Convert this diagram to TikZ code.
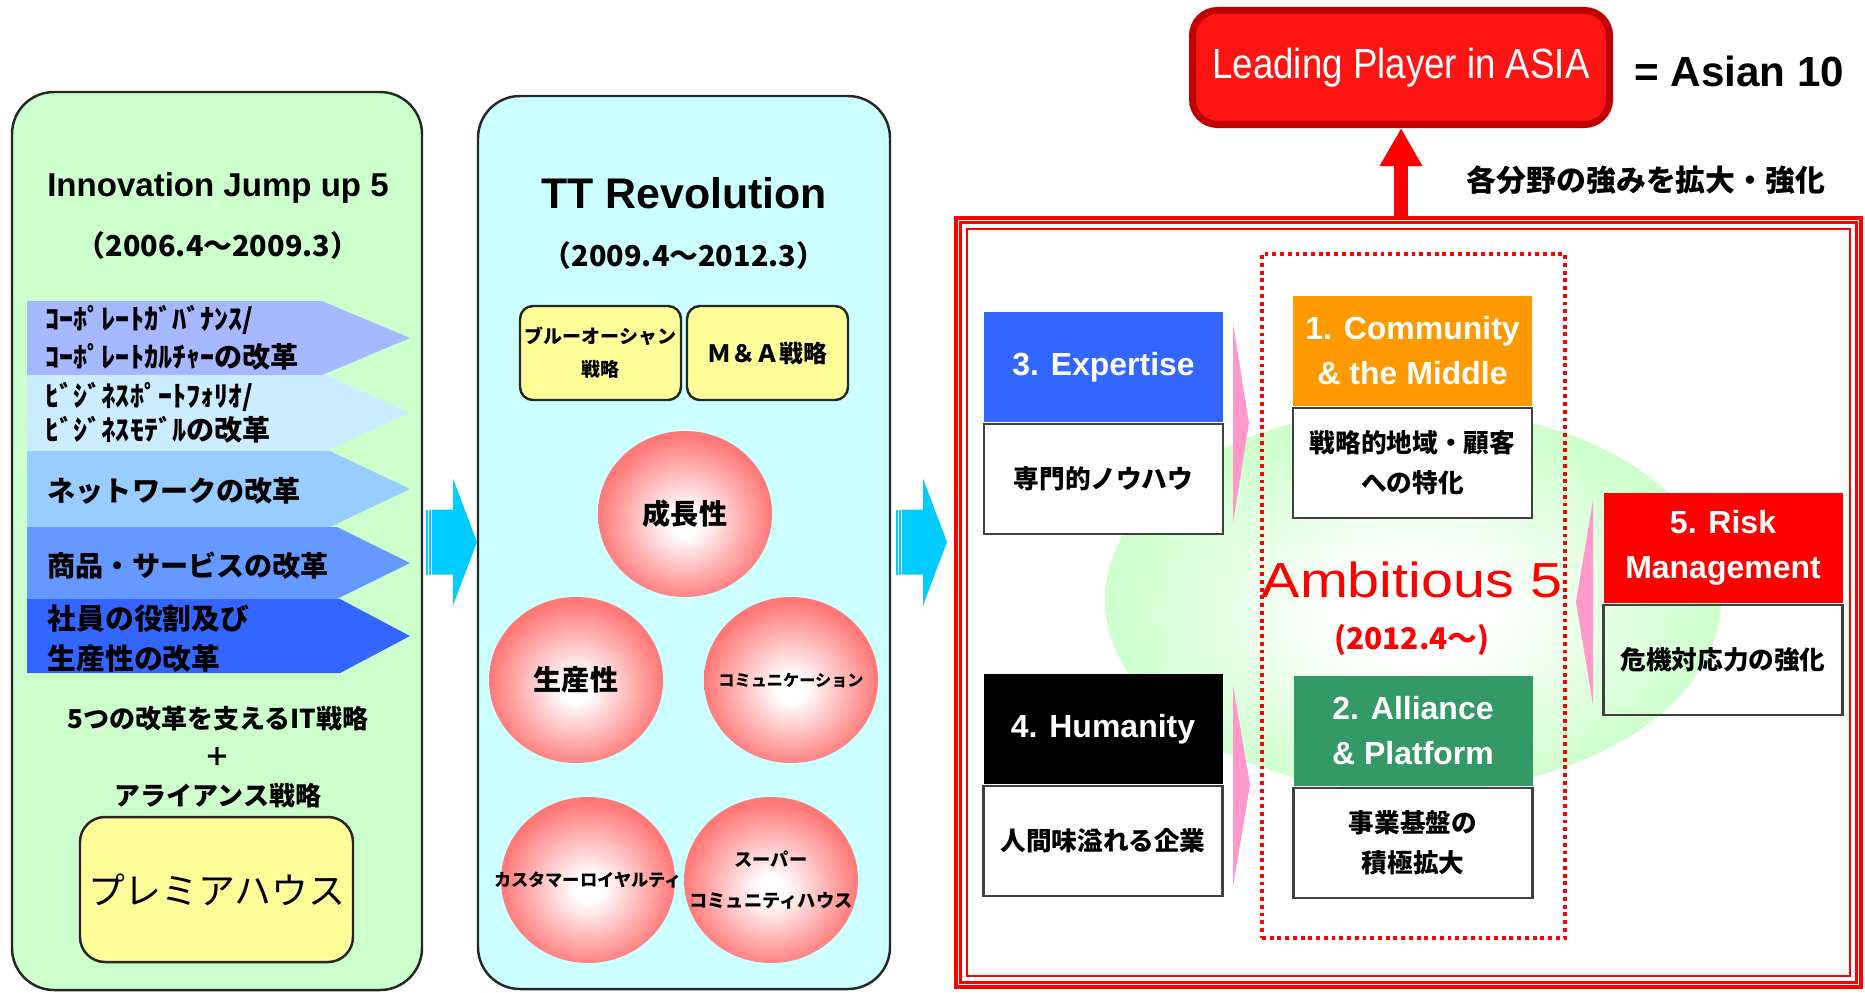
\documentclass[tikz,border=0pt]{standalone}
\usepackage{fontspec}
\setmainfont{Liberation Sans}
\newfontfamily\jp{Noto Sans CJK JP}
\newfontfamily\narrowsf{Liberation Sans}[FakeStretch=0.87]
\newfontfamily\widesf{Liberation Sans}[FakeStretch=1.17]
\usetikzlibrary{positioning,calc,shapes.geometric,arrows.meta}

\definecolor{leftgreen}{HTML}{CCFFCC}
\definecolor{midcyan}{HTML}{CCFFFF}
\definecolor{softyellow}{HTML}{FFFF99}
\definecolor{arrowcyan}{HTML}{00CCFF}
\definecolor{bandA}{HTML}{A6B8FF}
\definecolor{bandB}{HTML}{CCECFF}
\definecolor{bandC}{HTML}{99CCFF}
\definecolor{bandD}{HTML}{6699FF}
\definecolor{bandE}{HTML}{3366FF}
\definecolor{ballred}{HTML}{FF7878}
\definecolor{glowgreen}{HTML}{CCFFCC}
\definecolor{chevpink}{HTML}{FF99CC}
\definecolor{leadred}{HTML}{FF1414}
\definecolor{leadedge}{HTML}{C00000}
\definecolor{expblue}{HTML}{3366FF}
\definecolor{comorange}{HTML}{FF9900}
\definecolor{allgreen}{HTML}{339966}

\pgfdeclareradialshading{pinkglow}{\pgfpoint{0bp}{-3bp}}{color(0bp)=(white); color(4bp)=(white); color(25bp)=(ballred); color(50bp)=(ballred)}
\pgfdeclareradialshading{greenglow}{\pgfpoint{0bp}{-2bp}}{color(0bp)=(white); color(6bp)=(white); color(25bp)=(glowgreen); color(50bp)=(glowgreen)}

\begin{document}
\begin{tikzpicture}
\tikzset{panel/.style={draw=black!85, line width=0.7pt, rounded corners=0.42cm, minimum width=4.10cm, minimum height=8.98cm, inner sep=0pt},
  ybox/.style={draw=black!85, line width=0.7pt, fill=softyellow, rounded corners=0.13cm, minimum width=1.61cm, minimum height=0.94cm, inner sep=0pt, align=center},
  ball/.style={ellipse, shading=pinkglow, minimum width=1.74cm, minimum height=1.66cm, inner sep=0pt},
  balltxt/.style={inner sep=0pt, align=center},
  band/.style={anchor=west, align=left, inner sep=0pt, font=\jp\fontsize{8}{10.8}\selectfont\bfseries},
  hdr/.style={minimum width=2.39cm, minimum height=1.10cm, inner sep=0pt, text=white, align=center, font=\fontsize{9.1}{12.8}\selectfont\bfseries},
  body/.style={draw=black!75, line width=0.6pt, fill=white, minimum width=2.39cm, minimum height=1.10cm, inner sep=0pt, align=center, font=\jp\fontsize{7.3}{11.2}\selectfont\bfseries}}
\useasboundingbox (0,0) rectangle (18.65,-9.92);

% Innovation Jump up 5
\node[panel, fill=leftgreen] (jump) at (2.17,-5.41) {};
\node[font=\fontsize{9.4}{11}\selectfont\bfseries] (jumptitle) at (2.18,-1.88) {Innovation Jump up 5};
\node[font=\jp\fontsize{8.2}{10}\selectfont\bfseries] (jumpdate) at (2.18,-2.46) {（2006.4～2009.3）};
\foreach \c/\t/\b/\r in {bandA/3.01/3.75/3.22, bandB/3.75/4.51/3.25, bandC/4.51/5.27/3.30, bandD/5.27/5.99/3.37, bandE/5.99/6.73/3.40}
  \fill[\c] (0.27,-\t) -- (\r,-\t) -- (4.10,{-(\t+\b)/2}) -- (\r,-\b) -- (0.27,-\b) -- cycle;
\node[band] (gov) at (0.45,-3.38) {ｺｰﾎﾟﾚｰﾄｶﾞﾊﾞﾅﾝｽ/\\ｺｰﾎﾟﾚｰﾄｶﾙﾁｬｰの改革};
\node[band, font=\jp\fontsize{8}{9.7}\selectfont\bfseries] (biz) at (0.45,-4.13) {ﾋﾞｼﾞﾈｽﾎﾟｰﾄﾌｫﾘｵ/\\ﾋﾞｼﾞﾈｽﾓﾃﾞﾙの改革};
\node[band] (net) at (0.47,-4.91) {ネットワークの改革};
\node[band] (svc) at (0.47,-5.66) {商品・サービスの改革};
\node[band, font=\jp\fontsize{8.2}{11.6}\selectfont\bfseries] (staff) at (0.47,-6.385) {社員の役割及び\\生産性の改革};
\node[align=center, font=\jp\fontsize{7.4}{11}\selectfont\bfseries] (itplan) at (2.18,-7.57) {5つの改革を支えるIT戦略\\＋\\アライアンス戦略};
\node[ybox, rounded corners=0.25cm, minimum width=2.73cm, minimum height=1.45cm, font=\jp\fontsize{10.5}{12}\selectfont] (premia) at (2.165,-8.895) {プレミアハウス};

% TT Revolution
\node[panel, fill=midcyan, minimum width=4.12cm, minimum height=8.93cm] (tt) at (6.84,-5.425) {};
\node[font=\fontsize{12.2}{14}\selectfont\bfseries] (tttitle) at (6.84,-1.93) {TT Revolution};
\node[font=\jp\fontsize{8.2}{10}\selectfont\bfseries] (ttdate) at (6.84,-2.56) {（2009.4～2012.3）};
\node[ybox, font=\jp\fontsize{5.4}{9.4}\selectfont\bfseries] (ocean) at (6.005,-3.53) {ブルーオーシャン\\戦略};
\node[ybox, font=\jp\fontsize{6.8}{8}\selectfont\bfseries] (ma) at (7.675,-3.53) {Ｍ＆Ａ戦略};
\foreach \n/\x/\y in {growth/6.85/5.14, prod/5.76/6.80, comm/7.91/6.80, loyal/5.88/8.80, super/7.71/8.80}
  \node[ball] (\n) at (\x,-\y) {};
\node[balltxt, font=\jp\fontsize{8}{9}\selectfont\bfseries] (growth-t) at (growth) {成長性};
\node[balltxt, font=\jp\fontsize{8}{9}\selectfont\bfseries] (prod-t) at (prod) {生産性};
\node[balltxt, font=\jp\fontsize{4.6}{6}\selectfont\bfseries] (comm-t) at (comm) {コミュニケーション};
\node[balltxt, font=\jp\fontsize{4.9}{6}\selectfont\bfseries] (loyal-t) at (loyal) {カスタマーロイヤルティ};
\node[balltxt, font=\jp\fontsize{5.2}{11.7}\selectfont\bfseries] (super-t) at (super) {スーパー\\コミュニティハウス};

% arrows between stages
\foreach \ax in {4.26,8.96} {
  \fill[arrowcyan] (\ax,-5.095) rectangle (\ax+0.02,-5.745);
  \fill[arrowcyan] (\ax+0.03,-5.095) rectangle (\ax+0.05,-5.745);
  \fill[arrowcyan] (\ax+0.06,-5.095) -- (\ax+0.27,-5.095) -- (\ax+0.27,-4.785) -- (\ax+0.51,-5.42)
    -- (\ax+0.27,-6.055) -- (\ax+0.27,-5.745) -- (\ax+0.06,-5.745) -- cycle;
}

% Ambitious 5
\node[draw=red, line width=1.1pt, minimum width=9.05cm, minimum height=7.69cm, inner sep=0pt] (frame) at (14.085,-6.025) {};
\draw[red, line width=0.8pt] ($(frame.north west)+(0.065,-0.065)$) rectangle ($(frame.south east)+(-0.065,0.065)$);
\draw[red, line width=0.8pt] ($(frame.north west)+(0.13,-0.13)$) rectangle ($(frame.south east)+(-0.13,0.13)$);
\node[ellipse, shading=greenglow, minimum width=6.16cm, minimum height=3.84cm] (glow) at (14.13,-6.00) {};
\node[draw=red, line width=1.1pt, dash pattern=on 1.1pt off 1.1pt, minimum width=3.03cm, minimum height=6.84cm] (amb) at (14.135,-5.96) {};

\node[hdr, fill=expblue] (expert) at (11.035,-3.67) {3. Expertise};
\node[body, below=0pt of expert] (expert-b) {専門的ノウハウ};
\node[hdr, fill=black] (human) at (11.03,-7.29) {4. Humanity};
\node[body, below=0pt of human] (human-b) {人間味溢れる企業};
\node[hdr, fill=comorange] (commu) at (14.125,-3.51) {1. Community\\\& the Middle};
\node[body, below=0pt of commu] (commu-b) {戦略的地域・顧客\\への特化};
\node[hdr, fill=allgreen] (alli) at (14.13,-7.31) {2. Alliance\\\& Platform};
\node[body, below=0pt of alli] (alli-b) {事業基盤の\\積極拡大};
\node[hdr, fill=red] (risk) at (17.23,-5.48) {5. Risk\\Management};
\node[body, fill=none, below=0pt of risk] (risk-b) {危機対応力の強化};

\fill[chevpink] (12.33,-3.23) -- (12.49,-4.23) -- (12.33,-5.23) -- cycle;
\fill[chevpink] (12.33,-6.85) -- (12.50,-7.85) -- (12.33,-8.87) -- cycle;
\fill[chevpink] (15.93,-5.00) -- (15.76,-6.02) -- (15.93,-7.05) -- cycle;

\node[text=red, font=\widesf\fontsize{14}{16}\selectfont] (ambtxt) at (14.12,-5.80) {Ambitious 5};
\node[text=red, font=\jp\fontsize{8.5}{10}\selectfont\bfseries] (ambdate) at (14.12,-6.40) {(2012.4～)};

% goal
\node[draw=leadedge, line width=2pt, fill=leadred, rounded corners=0.25cm, minimum width=4.17cm, minimum height=1.14cm, text=white, font=\narrowsf\fontsize{12}{14}\selectfont] (lead) at (14.01,-0.675) {Leading Player in ASIA};
\node[anchor=west, font=\fontsize{12}{14}\selectfont\bfseries] (asian) at (16.22,-0.71) {= Asian 10};
\node[font=\jp\fontsize{8.5}{10}\selectfont\bfseries] (expand) at (16.46,-1.80) {各分野の強みを拡大・強化};
\draw[-{Triangle[width=0.40cm,length=0.38cm]}, red, line width=0.14cm] (frame.north -| lead.south) -- (lead.south);
\end{tikzpicture}
\end{document}
